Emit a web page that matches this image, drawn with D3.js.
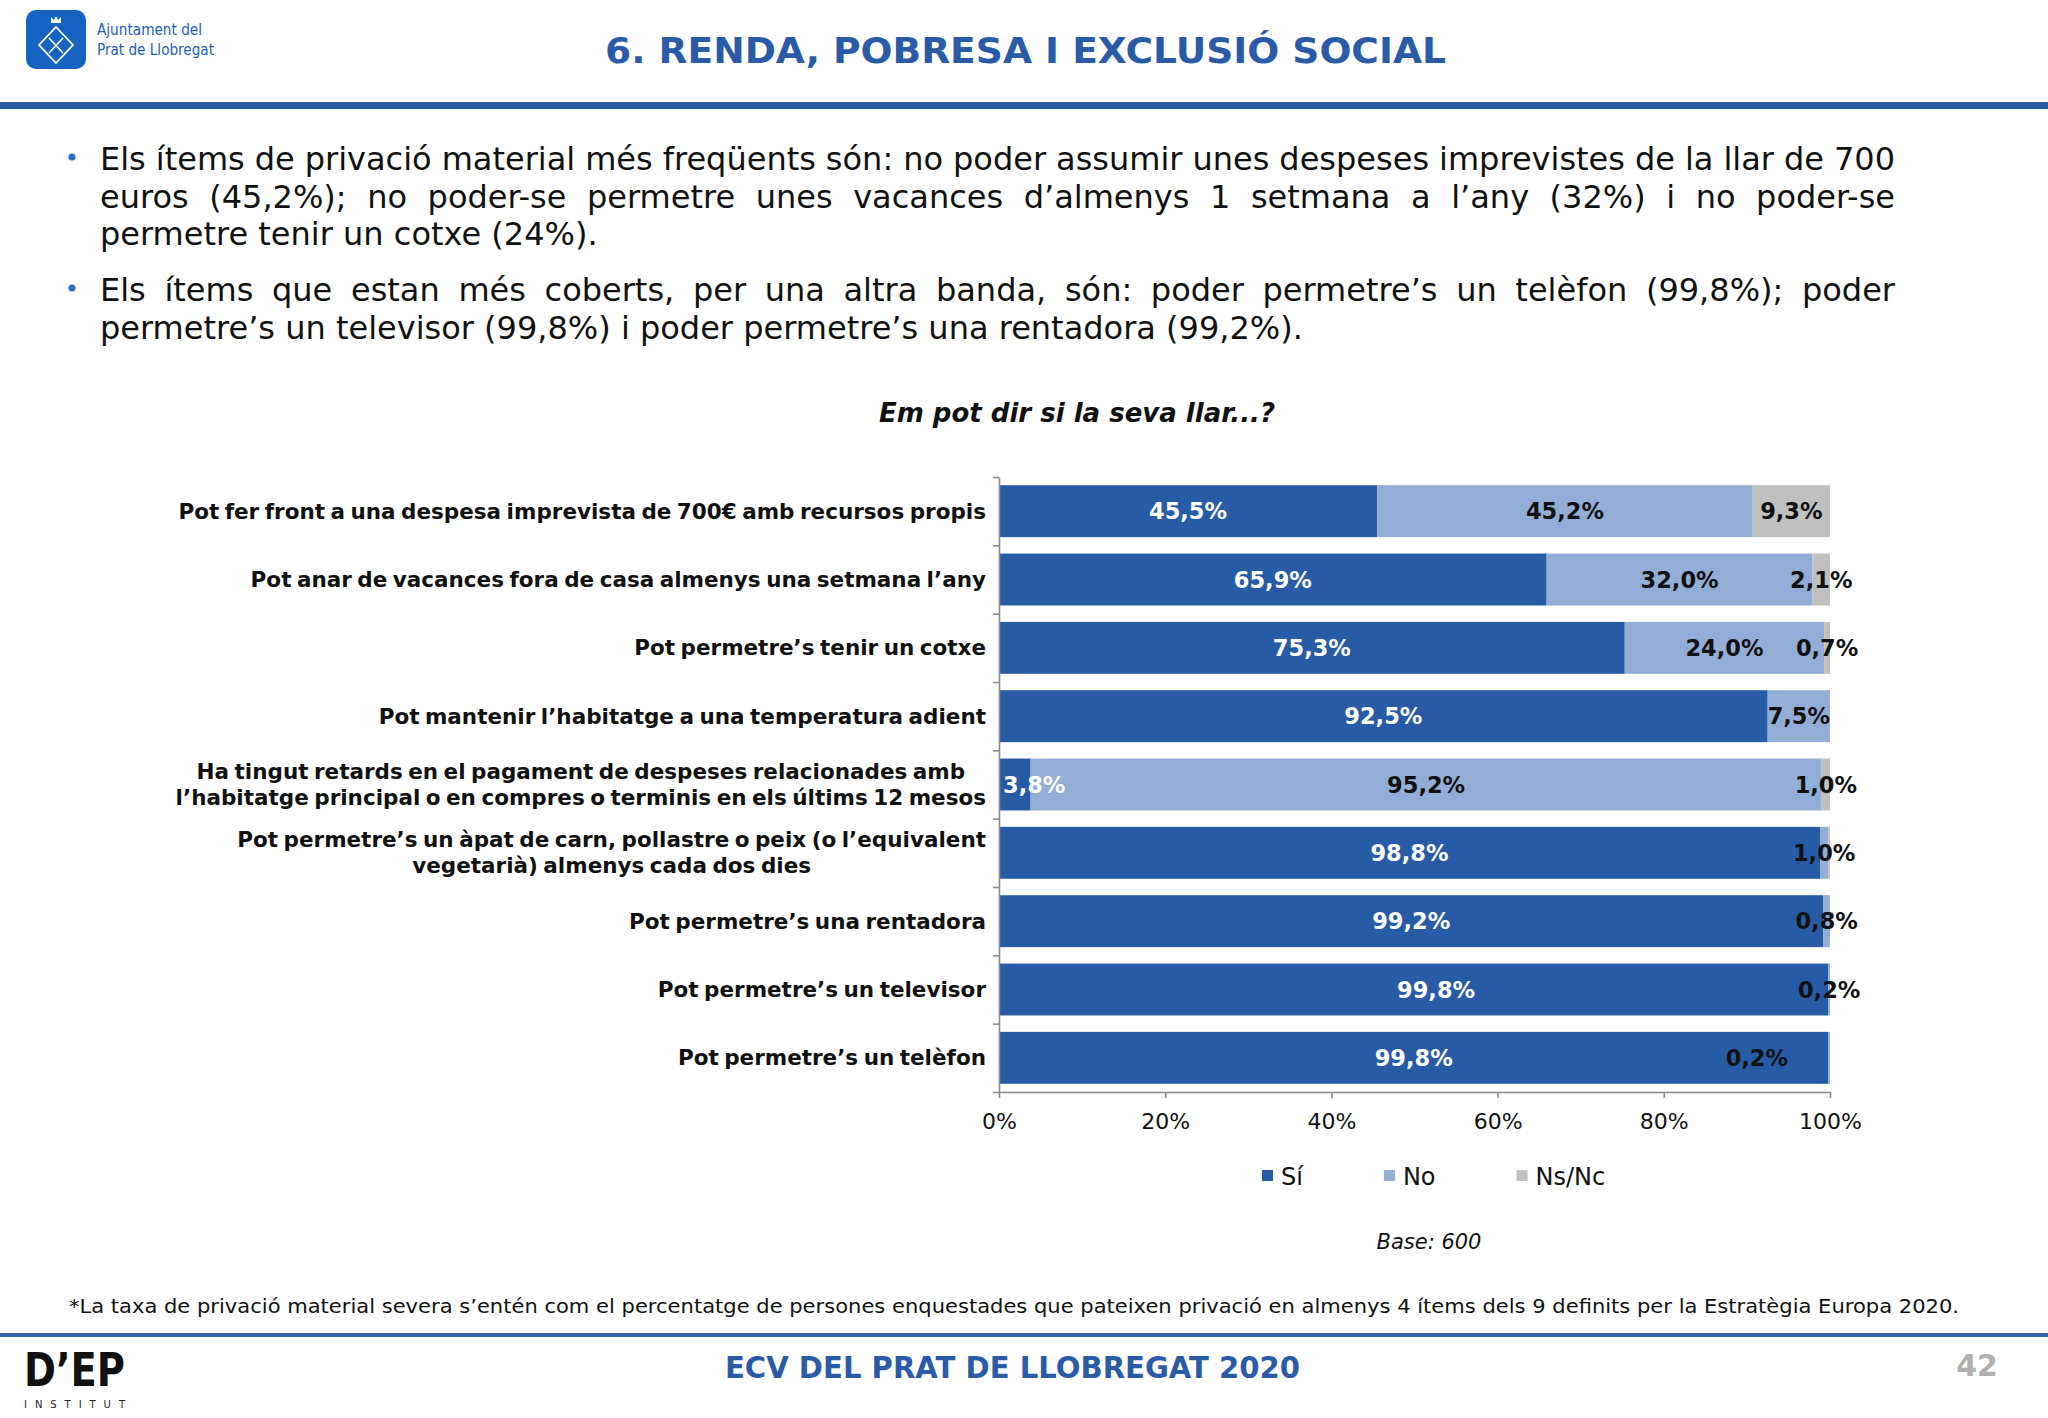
<!DOCTYPE html>
<html>
<head>
<meta charset="utf-8">
<script src="https://cdn.jsdelivr.net/npm/d3@7"></script>
<style>
  body { margin: 0; background: #fff; }
  svg { display: block; }
</style>
</head>
<body>
<div id="chart"></div>
<script>
// chart data
const categories = [
  'Pot fer front a una despesa imprevista de 700€ amb recursos propis',
  'Pot anar de vacances fora de casa almenys una setmana l’any',
  'Pot permetre’s tenir un cotxe',
  'Pot mantenir l’habitatge a una temperatura adient',
  'Ha tingut retards en el pagament de despeses relacionades amb\nl’habitatge principal o en compres o terminis en els últims 12 mesos',
  'Pot permetre’s un àpat de carn, pollastre o peix (o l’equivalent\nvegetarià) almenys cada dos dies',
  'Pot permetre’s una rentadora',
  'Pot permetre’s un televisor',
  'Pot permetre’s un telèfon'
];
const siValues = [45.5, 65.9, 75.3, 92.5, 3.8, 98.8, 99.2, 99.8, 99.8];
const noValues = [45.2, 32.0, 24.0, 7.5, 95.2, 1.0, 0.8, 0.2, 0.2];
const nsValues = [9.3, 2.1, 0.7, 0, 1.0, 0.2, 0, 0, 0];
const seriesNames = ['Sí', 'No', 'Ns/Nc'];
const xTicks = [0, 20, 40, 60, 80, 100];

// labels removed / moved by hand in the original
const hiddenLabels = [[5, 'Ns/Nc']];
const movedLabels = [[7, 'Sí', 52.6], [8, 'No', 91.2]];

// texts
const pageTitle = '6. RENDA, POBRESA I EXCLUSIÓ SOCIAL';
const bullets = [
  ['Els ítems de privació material més freqüents són: no poder assumir unes despeses imprevistes de la llar de 700',
   'euros (45,2%); no poder-se permetre unes vacances d’almenys 1 setmana a l’any (32%) i no poder-se',
   'permetre tenir un cotxe (24%).'],
  ['Els ítems que estan més coberts, per una altra banda, són: poder permetre’s un telèfon (99,8%); poder',
   'permetre’s un televisor (99,8%) i poder permetre’s una rentadora (99,2%).']
];
const chartTitle = 'Em pot dir si la seva llar...?';
const baseText = 'Base: 600';
const footnote = '*La taxa de privació material severa s’entén com el percentatge de persones enquestades que pateixen privació en almenys 4 ítems dels 9 definits per la Estratègia Europa 2020.';
const footerTitle = 'ECV DEL PRAT DE LLOBREGAT 2020';
const pageNum = '42';

const colors = { 'Sí': '#275ba6', 'No': '#93aed6', 'Ns/Nc': '#c0c0c0' };
const blue = '#2a5ba7';

const W = 2048, H = 1418;
const svg = d3.select('#chart').append('svg')
  .attr('width', W).attr('height', H)
  .style('font-family', '"DejaVu Sans", Verdana, sans-serif');

// ---------- header ----------
svg.append('rect').attr('x', 26).attr('y', 10).attr('width', 60).attr('height', 59)
  .attr('rx', 10).attr('fill', '#1763c2');
const logo = svg.append('g').attr('stroke', '#fff').attr('fill', 'none').attr('stroke-width', 1.8);
logo.append('path').attr('d', 'M56,27 L73,45 L56,63 L39,45 Z');
logo.append('path').attr('d', 'M49,38 L63,53 M63,38 L49,53').attr('stroke-width', 1.6);
logo.append('path').attr('d', 'M51,23 L51,17 L54,20 L56,16 L58,20 L61,17 L61,23 Z')
  .attr('fill', '#fff').attr('stroke', 'none');

const hdr = svg.append('g').attr('fill', '#1e5eb6')
  .style('font-family', '"DejaVu Sans Condensed", "Liberation Sans Narrow", sans-serif')
  .style('font-size', '16px');
hdr.append('text').attr('x', 97).attr('y', 35)
  .attr('textLength', 105).attr('lengthAdjust', 'spacingAndGlyphs').text('Ajuntament del');
hdr.append('text').attr('x', 97).attr('y', 55)
  .attr('textLength', 117).attr('lengthAdjust', 'spacingAndGlyphs').text('Prat de Llobregat');

svg.append('text')
  .attr('x', 605).attr('y', 63)
  .attr('textLength', 841).attr('lengthAdjust', 'spacingAndGlyphs')
  .attr('fill', blue).style('font-size', '36px').style('font-weight', 'bold')
  .text(pageTitle);

svg.append('rect').attr('x', 0).attr('y', 102).attr('width', W).attr('height', 7).attr('fill', blue);

// ---------- bullets ----------
const textLeft = 100, textRight = 1895, lineH = 37.5;
const bulletTop = [170, 301];
bullets.forEach((lines, bi) => {
  svg.append('circle').attr('cx', 72).attr('cy', bulletTop[bi] - 13).attr('r', 3.6).attr('fill', '#2e6cc2');
  lines.forEach((line, li) => {
    const t = svg.append('text')
      .attr('x', textLeft).attr('y', bulletTop[bi] + li * lineH)
      .attr('fill', '#111').style('font-size', '32px')
      .text(line);
    if (li < lines.length - 1) {
      const natural = t.node().getComputedTextLength();
      const spaces = line.split(' ').length - 1;
      t.style('word-spacing', ((textRight - textLeft - natural) / spaces) + 'px');
    }
  });
});

// ---------- chart ----------
svg.append('text')
  .attr('x', 1077).attr('y', 422).attr('text-anchor', 'middle')
  .style('font-size', '26px').style('font-weight', 'bold').style('font-style', 'italic')
  .attr('fill', '#111').text(chartTitle);

const x = d3.scaleLinear().domain([0, 100]).range([999, 1830]);
const y = d3.scaleBand().domain(d3.range(categories.length))
  .range([477, 1092]).paddingInner(0.24).paddingOuter(0.12);
const yEdges = d3.scaleLinear().domain([0, categories.length]).range([477, 1092]);

const rows = categories.map((c, i) => ({ i, 'Sí': siValues[i], 'No': noValues[i], 'Ns/Nc': nsValues[i] }));
const stacked = d3.stack().keys(seriesNames)(rows);

const g = svg.append('g');
g.selectAll('g.series')
  .data(stacked)
  .enter().append('g')
  .attr('fill', d => colors[d.key])
  .selectAll('rect')
  .data(d => d)
  .enter().append('rect')
  .attr('x', d => x(d[0]))
  .attr('y', d => y(d.data.i))
  .attr('width', d => x(d[1]) - x(d[0]))
  .attr('height', y.bandwidth());

// axes
const axisColor = '#8a8a8a';
const yAxis = svg.append('g')
  .attr('transform', `translate(${x(0)},0)`)
  .call(d3.axisLeft(yEdges).tickValues(d3.range(0, categories.length + 1)).tickFormat('').tickSize(6).tickSizeOuter(0));
const xAxis = svg.append('g')
  .attr('transform', `translate(0,${yEdges(categories.length)})`)
  .call(d3.axisBottom(x).tickValues(xTicks).tickFormat(d => d + '%').tickSize(6).tickSizeOuter(0).tickPadding(15));
[yAxis, xAxis].forEach(a => {
  a.selectAll('path, line').attr('stroke', axisColor).attr('stroke-width', 1.6);
});
xAxis.selectAll('text').attr('fill', '#111').style('font-size', '22px').style('font-family', '"DejaVu Sans", Verdana, sans-serif');

// category labels
const labelRight = 986;
categories.forEach((c, i) => {
  const lines = c.split('\n');
  const cy = y(i) + y.bandwidth() / 2;
  const t = svg.append('text')
    .attr('fill', '#111').style('font-size', '21.5px').style('font-weight', 'bold')
    .style('word-spacing', '-2px');
  const spans = lines.map((ln, k) => t.append('tspan')
    .attr('y', cy + (k - (lines.length - 1) / 2) * 26)
    .attr('dy', '0.35em').text(ln));
  if (lines.length === 1) {
    t.attr('text-anchor', 'end');
    spans[0].attr('x', labelRight);
  } else {
    const maxW = d3.max(spans, s => s.node().getComputedTextLength());
    t.attr('text-anchor', 'middle');
    spans.forEach(s => s.attr('x', labelRight - maxW / 2));
  }
});

// value labels
const fmt = v => d3.format('.1f')(v).replace('.', ',') + '%';
stacked.forEach(s => {
  s.forEach(d => {
    const i = d.data.i;
    const v = d[1] - d[0];
    if (v <= 0) return;
    if (hiddenLabels.some(h => h[0] === i && h[1] === s.key)) return;
    const moved = movedLabels.find(m => m[0] === i && m[1] === s.key);
    const t = g.append('text')
      .attr('y', y(i) + y.bandwidth() / 2).attr('dy', '0.36em')
      .attr('text-anchor', 'middle')
      .attr('fill', s.key === 'Sí' ? '#fff' : '#111')
      .style('font-size', '22.5px').style('font-weight', 'bold')
      .text(fmt(v));
    const w = t.node().getComputedTextLength();
    let cx = moved ? x(moved[2]) : x((d[0] + d[1]) / 2);
    cx = Math.max(cx, x(0) + w / 2 + 4);
    t.attr('x', cx);
  });
});

// legend
const legend = svg.append('g').attr('transform', 'translate(1262,1176)');
let lx = 0;
seriesNames.forEach(n => {
  legend.append('rect').attr('x', lx).attr('y', -6).attr('width', 11).attr('height', 11).attr('fill', colors[n]);
  const t = legend.append('text').attr('x', lx + 19).attr('y', 0).attr('dy', '0.36em')
    .attr('fill', '#111').style('font-size', '24px').text(n);
  lx += 19 + t.node().getComputedTextLength() + 81;
});

svg.append('text')
  .attr('x', 1429).attr('y', 1249).attr('text-anchor', 'middle')
  .style('font-size', '21px').style('font-style', 'italic').attr('fill', '#111')
  .text(baseText);

// ---------- footer ----------
svg.append('text')
  .attr('x', 69).attr('y', 1313)
  .attr('textLength', 1890).attr('lengthAdjust', 'spacingAndGlyphs')
  .style('font-size', '19px').attr('fill', '#111')
  .text(footnote);

svg.append('rect').attr('x', 0).attr('y', 1333).attr('width', W).attr('height', 4).attr('fill', '#3463ab');

svg.append('text')
  .attr('x', 24).attr('y', 1386)
  .attr('textLength', 101).attr('lengthAdjust', 'spacingAndGlyphs')
  .style('font-size', '46px').style('font-weight', 'bold')
  .style('font-family', '"DejaVu Sans Condensed", "DejaVu Sans", sans-serif')
  .attr('fill', '#111').text('D’EP');
svg.append('text')
  .attr('x', 24).attr('y', 1408)
  .attr('textLength', 101).attr('lengthAdjust', 'spacing')
  .style('font-size', '10px').attr('fill', '#222').text('INSTITUT');

svg.append('text')
  .attr('x', 725).attr('y', 1378)
  .attr('textLength', 575).attr('lengthAdjust', 'spacingAndGlyphs')
  .style('font-size', '30px').style('font-weight', 'bold').attr('fill', blue)
  .text(footerTitle);

svg.append('text')
  .attr('x', 1998).attr('y', 1376).attr('text-anchor', 'end')
  .style('font-size', '30px').style('font-weight', 'bold').attr('fill', '#b0b0b0')
  .text(pageNum);
</script>
</body>
</html>
